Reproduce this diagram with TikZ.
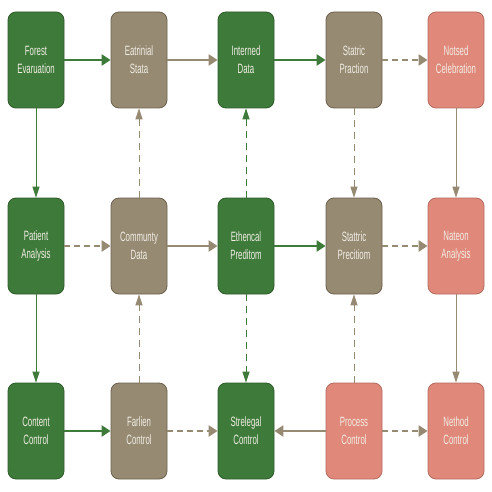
\documentclass[tikz,border=0pt]{standalone}
\usepackage{fontspec}
\setmainfont{Liberation Sans}[FakeStretch=0.58]
\usetikzlibrary{arrows.meta}

\definecolor{leafgreen}{HTML}{3E7B3A}
\definecolor{leafedge}{HTML}{2C5B29}
\definecolor{taupe}{HTML}{968A72}
\definecolor{taupeedge}{HTML}{6C614F}
\definecolor{salmon}{HTML}{E0887A}
\definecolor{salmonedge}{HTML}{B56B5F}
\definecolor{boxtext}{HTML}{F2EEE6}

\begin{document}
\begin{tikzpicture}[x=1pt, y=-1pt, line join=round,
  box/.style={rectangle, rounded corners=8pt, line width=0.8pt,
    minimum width=56pt, minimum height=96pt, text width=54pt, inner sep=1pt,
    align=center, text=boxtext, font=\fontsize{13.5}{18}\selectfont},
  gbox/.style={box, fill=leafgreen, draw=leafedge},
  tbox/.style={box, fill=taupe, draw=taupeedge},
  sbox/.style={box, fill=salmon, draw=salmonedge},
  harrow/.style={line width=2.4pt, -{Triangle[length=9pt,width=11pt]}},
  varrow/.style={line width=1pt, -{Triangle[length=11pt,width=7pt]}},
  hdash/.style={dash pattern=on 6pt off 4pt},
  vdash/.style={dash pattern=on 7pt off 5pt}]

  \useasboundingbox (0,0) rectangle (492,492);

  % Row 1
  \node[gbox] (forest)   at (36,60)  {Forest\\Evaruation};
  \node[tbox] (eatrinial) at (139,60) {Eatrinial\\Stata};
  \node[gbox] (interned) at (246,60) {Interned\\Data};
  \node[tbox] (statric)  at (354,60) {Statric\\Praction};
  \node[sbox] (notsed)   at (456,60) {Notsed\\Celebration};

  % Row 2
  \node[gbox] (patient)  at (36,246)  {Patient\\Analysis};
  \node[tbox] (communty) at (139,246) {Communty\\Data};
  \node[gbox] (ethencal) at (246,246) {Ethencal\\Preditom};
  \node[tbox] (stattric) at (354,246) {Stattric\\Precitiom};
  \node[sbox] (nateon)   at (456,246) {Nateon\\Analysis};

  % Row 3
  \node[gbox] (content)   at (36,431)  {Content\\Control};
  \node[tbox] (farlien)   at (139,431) {Farlien\\Control};
  \node[gbox] (strelegal) at (246,431) {Strelegal\\Control};
  \node[sbox] (process)   at (354,431) {Process\\Control};
  \node[sbox] (nethod)    at (456,431) {Nethod\\Control};

  % Horizontal links
  \draw[harrow, leafgreen] (forest) -- (eatrinial);
  \draw[harrow, taupe] (eatrinial) -- (interned);
  \draw[harrow, leafgreen] (interned) -- (statric);
  \draw[harrow, hdash, taupe] (statric) -- (notsed);

  \draw[harrow, hdash, taupe] (patient) -- (communty);
  \draw[harrow, taupe] (communty) -- (ethencal);
  \draw[harrow, leafgreen] (ethencal) -- (stattric);
  \draw[harrow, hdash, taupe] (stattric) -- (nateon);

  \draw[harrow, leafgreen] (content) -- (farlien);
  \draw[harrow, hdash, taupe] (farlien) -- (strelegal);
  \draw[harrow, taupe] (process) -- (strelegal);
  \draw[harrow, hdash, taupe] (process) -- (nethod);

  % Vertical links
  \draw[varrow, leafgreen] (forest) -- (patient);
  \draw[varrow, vdash, taupe] (communty) -- (eatrinial);
  \draw[varrow, vdash, leafgreen] (ethencal) -- (interned);
  \draw[varrow, vdash, taupe] (statric) -- (stattric);
  \draw[varrow, taupe] (notsed) -- (nateon);

  \draw[varrow, leafgreen] (patient) -- (content);
  \draw[varrow, vdash, taupe] (farlien) -- (communty);
  \draw[varrow, vdash, leafgreen] (ethencal) -- (strelegal);
  \draw[varrow, vdash, taupe] (process) -- (stattric);
  \draw[varrow, taupe] (nateon) -- (nethod);

\end{tikzpicture}
\end{document}
